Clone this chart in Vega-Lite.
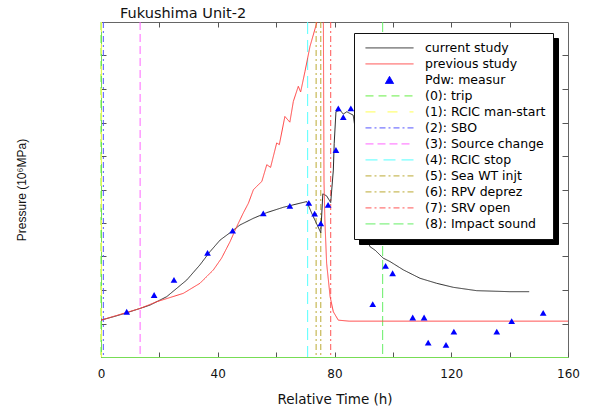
{
  "$schema": "https://vega.github.io/schema/vega-lite/v6.json",
  "width": 467,
  "height": 335,
  "autosize": "none",
  "padding": {"left": 101, "top": 22, "right": 24, "bottom": 52},
  "background": "white",
  "title": {"text": "Fukushima Unit-2", "anchor": "start", "frame": "group", "dx": 19, "fontSize": 14.5, "font": "DejaVu Sans", "fontWeight": "normal", "color": "#111", "baseline": "alphabetic", "offset": -11},
  "datasets": {
    "curves": [
      {"s": "current study", "t": 0, "p": 1.10},
      {"s": "current study", "t": 5, "p": 1.22},
      {"s": "current study", "t": 8.8, "p": 1.32},
      {"s": "current study", "t": 13.4, "p": 1.45},
      {"s": "current study", "t": 16.8, "p": 1.55},
      {"s": "current study", "t": 22.5, "p": 1.80},
      {"s": "current study", "t": 29.4, "p": 2.30},
      {"s": "current study", "t": 33.9, "p": 2.75},
      {"s": "current study", "t": 37.3, "p": 3.14},
      {"s": "current study", "t": 40.8, "p": 3.49},
      {"s": "current study", "t": 44.2, "p": 3.71},
      {"s": "current study", "t": 47.6, "p": 3.94},
      {"s": "current study", "t": 52.2, "p": 4.14},
      {"s": "current study", "t": 56.8, "p": 4.31},
      {"s": "current study", "t": 62.5, "p": 4.47},
      {"s": "current study", "t": 70.5, "p": 4.64},
      {"s": "current study", "t": 72.2, "p": 4.29},
      {"s": "current study", "t": 75.3, "p": 3.71},
      {"s": "current study", "t": 76.0, "p": 4.87},
      {"s": "current study", "t": 77.3, "p": 4.81},
      {"s": "current study", "t": 78.7, "p": 4.61},
      {"s": "current study", "t": 79.6, "p": 5.58},
      {"s": "current study", "t": 79.9, "p": 6.38},
      {"s": "current study", "t": 80.5, "p": 7.32},
      {"s": "current study", "t": 81.9, "p": 7.37},
      {"s": "current study", "t": 83.0, "p": 7.25},
      {"s": "current study", "t": 84.2, "p": 7.32},
      {"s": "current study", "t": 86.4, "p": 7.22},
      {"s": "current study", "t": 88.5, "p": 6.0},
      {"s": "current study", "t": 90.5, "p": 3.6},
      {"s": "current study", "t": 92.2, "p": 3.29},
      {"s": "current study", "t": 93.9, "p": 3.19},
      {"s": "current study", "t": 96.7, "p": 2.95},
      {"s": "current study", "t": 99.0, "p": 2.85},
      {"s": "current study", "t": 103.6, "p": 2.60},
      {"s": "current study", "t": 109.3, "p": 2.35},
      {"s": "current study", "t": 115.0, "p": 2.20},
      {"s": "current study", "t": 120.7, "p": 2.08},
      {"s": "current study", "t": 128.7, "p": 1.98},
      {"s": "current study", "t": 140.1, "p": 1.95},
      {"s": "current study", "t": 146.7, "p": 1.95},
      {"s": "previous study", "t": 0, "p": 1.10},
      {"s": "previous study", "t": 13.4, "p": 1.45},
      {"s": "previous study", "t": 19.1, "p": 1.65},
      {"s": "previous study", "t": 28.2, "p": 1.90},
      {"s": "previous study", "t": 33.9, "p": 2.20},
      {"s": "previous study", "t": 38.5, "p": 2.60},
      {"s": "previous study", "t": 41.3, "p": 2.95},
      {"s": "previous study", "t": 44.2, "p": 3.44},
      {"s": "previous study", "t": 46.5, "p": 3.89},
      {"s": "previous study", "t": 48.7, "p": 4.29},
      {"s": "previous study", "t": 50.5, "p": 4.59},
      {"s": "previous study", "t": 52.2, "p": 4.99},
      {"s": "previous study", "t": 53.3, "p": 5.09},
      {"s": "previous study", "t": 55.1, "p": 5.24},
      {"s": "previous study", "t": 56.8, "p": 5.74},
      {"s": "previous study", "t": 58.1, "p": 5.66},
      {"s": "previous study", "t": 60.2, "p": 6.39},
      {"s": "previous study", "t": 61.1, "p": 6.34},
      {"s": "previous study", "t": 63.0, "p": 7.18},
      {"s": "previous study", "t": 64.7, "p": 7.01},
      {"s": "previous study", "t": 65.9, "p": 7.63},
      {"s": "previous study", "t": 67.6, "p": 8.08},
      {"s": "previous study", "t": 68.4, "p": 7.91},
      {"s": "previous study", "t": 69.9, "p": 8.53},
      {"s": "previous study", "t": 71.6, "p": 9.27},
      {"s": "previous study", "t": 73.9, "p": 9.97},
      {"s": "previous study", "t": 75.0, "p": 10.6},
      {"s": "previous study", "t": 75.9, "p": 10.6},
      {"s": "previous study", "t": 76.2, "p": 9.9},
      {"s": "previous study", "t": 76.4, "p": 5.28},
      {"s": "previous study", "t": 76.7, "p": 4.09},
      {"s": "previous study", "t": 77.3, "p": 2.80},
      {"s": "previous study", "t": 78.5, "p": 1.80},
      {"s": "previous study", "t": 79.6, "p": 1.35},
      {"s": "previous study", "t": 81.3, "p": 1.10},
      {"s": "previous study", "t": 85, "p": 1.07},
      {"s": "previous study", "t": 160, "p": 1.07}
    ],
    "meas": [
      {"s": "Pdw: measur", "t": 8.8, "p": 1.35},
      {"s": "Pdw: measur", "t": 18.2, "p": 1.85},
      {"s": "Pdw: measur", "t": 25.0, "p": 2.30},
      {"s": "Pdw: measur", "t": 36.5, "p": 3.11},
      {"s": "Pdw: measur", "t": 45.1, "p": 3.77},
      {"s": "Pdw: measur", "t": 55.6, "p": 4.29},
      {"s": "Pdw: measur", "t": 64.7, "p": 4.51},
      {"s": "Pdw: measur", "t": 71.2, "p": 4.60},
      {"s": "Pdw: measur", "t": 73.2, "p": 4.28},
      {"s": "Pdw: measur", "t": 75.3, "p": 3.99},
      {"s": "Pdw: measur", "t": 77.8, "p": 4.54},
      {"s": "Pdw: measur", "t": 80.5, "p": 6.18},
      {"s": "Pdw: measur", "t": 81.3, "p": 7.42},
      {"s": "Pdw: measur", "t": 83.0, "p": 7.16},
      {"s": "Pdw: measur", "t": 85.6, "p": 7.42},
      {"s": "Pdw: measur", "t": 93.1, "p": 1.58},
      {"s": "Pdw: measur", "t": 97.5, "p": 2.72},
      {"s": "Pdw: measur", "t": 99.9, "p": 2.50},
      {"s": "Pdw: measur", "t": 106.8, "p": 1.18},
      {"s": "Pdw: measur", "t": 110.7, "p": 1.18},
      {"s": "Pdw: measur", "t": 112.1, "p": 0.43},
      {"s": "Pdw: measur", "t": 118.2, "p": 0.36},
      {"s": "Pdw: measur", "t": 120.9, "p": 0.76},
      {"s": "Pdw: measur", "t": 135.6, "p": 0.76},
      {"s": "Pdw: measur", "t": 140.7, "p": 1.07},
      {"s": "Pdw: measur", "t": 151.5, "p": 1.32}
    ],
    "events": [
      {"s": "(0): trip", "t": 0},
      {"s": "(1): RCIC man-start", "t": 0.1},
      {"s": "(2): SBO", "t": 0.8},
      {"s": "(3): Source change", "t": 13.4},
      {"s": "(4): RCIC stop", "t": 70.8},
      {"s": "(5): Sea WT injt", "t": 73.7},
      {"s": "(6): RPV deprez", "t": 75.3},
      {"s": "(7): SRV open", "t": 78.7},
      {"s": "(8): Impact sound", "t": 96.5}
    ]
  },
  "layer": [
    {
      "data": {"name": "events"},
      "mark": {"type": "rule", "strokeWidth": 1},
      "encoding": {
        "x": {"field": "t", "type": "quantitative", "scale": {"domain": [0, 160], "nice": false}, "axis": null},
        "color": {"field": "s", "type": "nominal",
          "scale": {
            "domain": ["current study", "previous study", "Pdw: measur", "(0): trip", "(1): RCIC man-start", "(2): SBO", "(3): Source change", "(4): RCIC stop", "(5): Sea WT injt", "(6): RPV deprez", "(7): SRV open", "(8): Impact sound"],
            "range": ["#2a2a2a", "#ff4040", "#0000ff", "#66ee44", "#ffff55", "#5555ff", "#ff66ff", "#55ffff", "#bbaa33", "#bbaa33", "#ff5555", "#66ee66"]
          },
          "legend": {
            "title": null, "orient": "none", "legendX": 253, "legendY": 11, "zindex": 2,
            "fillColor": "white", "strokeColor": "#111", "padding": 7,
            "symbolSize": 2304, "symbolStrokeWidth": 1, "symbolOffset": 4, "labelOffset": 11,
            "clipHeight": 15.83, "rowPadding": 0, "labelFontSize": 12.5, "labelFont": "DejaVu Sans", "labelColor": "#000", "labelLimit": 300,
            "encode": {"symbols": {"update": {
              "shape": {"signal": "datum.value === 'Pdw: measur' ? 'M-0.17,0.15L0.17,0.15L0,-0.15Z' : 'stroke'"},
              "fill": {"signal": "datum.value === 'Pdw: measur' ? '#0000ff' : 'transparent'"},
              "opacity": {"value": 1}
            }}}
          }
        },
        "strokeDash": {"field": "s", "type": "nominal",
          "scale": {
            "domain": ["current study", "previous study", "Pdw: measur", "(0): trip", "(1): RCIC man-start", "(2): SBO", "(3): Source change", "(4): RCIC stop", "(5): Sea WT injt", "(6): RPV deprez", "(7): SRV open", "(8): Impact sound"],
            "range": [[1, 0], [1, 0], [1, 0], [8, 5], [10, 12], [6, 3, 2, 3], [8, 4], [12, 6], [6, 3, 2, 3], [6, 3, 2, 3], [6, 3, 2, 3], [10, 4]]
          }
        },
        "opacity": {"field": "s", "type": "nominal",
          "scale": {
            "domain": ["(8): Impact sound", "(7): SRV open", "(6): RPV deprez", "(5): Sea WT injt", "(4): RCIC stop", "(3): Source change", "(2): SBO", "(1): RCIC man-start", "(0): trip", "Pdw: measur", "previous study", "current study"],
            "range": [1, 1]
          },
          "legend": {
            "title": null, "orient": "none", "legendX": 258, "legendY": 16, "zindex": 1,
            "fillColor": "#000", "strokeColor": "#000", "padding": 7,
            "symbolSize": 2304, "symbolType": "stroke", "symbolStrokeColor": "#000", "symbolStrokeWidth": 1, "symbolOffset": 4, "labelOffset": 132,
            "clipHeight": 15.83, "rowPadding": 0, "labelFontSize": 12.5, "labelFont": "DejaVu Sans", "labelColor": "#000", "labelLimit": 300,
            "labelExpr": "''"
          }
        }
      }
    },
    {
      "data": {"name": "curves"},
      "mark": {"type": "line", "strokeWidth": 1, "clip": true},
      "encoding": {
        "x": {"field": "t", "type": "quantitative", "scale": {"domain": [0, 160], "nice": false},
          "axis": {"orient": "bottom", "values": [0, 20, 40, 60, 80, 100, 120, 140, 160], "labelExpr": "datum.value % 40 === 0 ? datum.label : ''", "labelFlush": false, "labelOverlap": false, "tickSize": -5, "labelPadding": 16, "title": "Relative Time (h)", "titleFontSize": 13.5, "titleFont": "DejaVu Sans", "titleFontWeight": "normal", "titleColor": "#111", "titlePadding": 13, "labelFontSize": 12, "labelFont": "DejaVu Sans", "labelColor": "#111", "domainColor": "#77dd55", "tickColor": "#555", "grid": false}},
        "y": {"field": "p", "type": "quantitative", "scale": {"domain": [0, 10], "nice": false},
          "axis": {"orient": "left", "values": [1, 2, 3, 4, 5, 6, 7, 8, 9], "labels": false, "tickSize": -5, "title": "Pressure (10⁶MPa)", "titleFont": "Liberation Sans", "titleFontSize": 12, "titleFontWeight": "normal", "titleColor": "#111", "titlePadding": 72, "domainColor": "#77dd55", "tickColor": "#555", "grid": false}},
        "color": {"field": "s", "type": "nominal"},
        "strokeDash": {"field": "s", "type": "nominal"}
      }
    },
    {
      "data": {"name": "meas"},
      "mark": {"type": "point", "shape": "triangle-up", "filled": true, "size": 45, "opacity": 1},
      "encoding": {
        "x": {"field": "t", "type": "quantitative",
          "axis": {"orient": "top", "values": [20, 40, 60, 80, 100, 120, 140], "labels": false, "tickSize": -5, "domain": false, "title": null, "tickColor": "#555", "grid": false}},
        "y": {"field": "p", "type": "quantitative",
          "axis": {"orient": "right", "values": [1, 2, 3, 4, 5, 6, 7, 8, 9], "labels": false, "tickSize": -6, "domain": false, "title": null, "tickColor": "#555", "grid": false}},
        "color": {"field": "s", "type": "nominal"}
      }
    }
  ],
  "resolve": {"axis": {"x": "independent", "y": "independent"}},
  "config": {
    "font": "DejaVu Sans",
    "view": {"stroke": "#666", "strokeWidth": 1},
    "axis": {"grid": false}
  }
}
